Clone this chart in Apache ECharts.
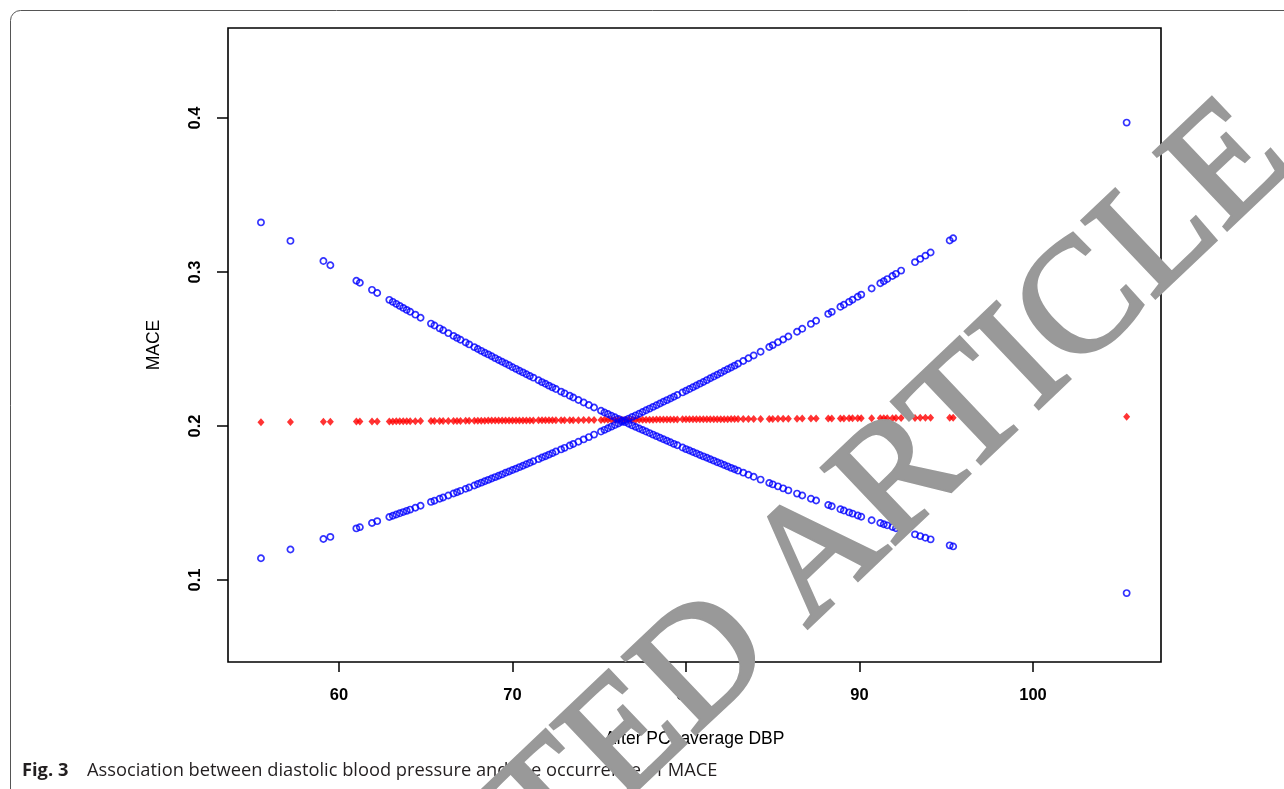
<!DOCTYPE html>
<html>
<head>
<meta charset="utf-8">
<script src="https://cdn.jsdelivr.net/npm/echarts@6/dist/echarts.min.js"></script>
<style>
  html, body { margin: 0; padding: 0; background: #fff; }
  #chart { width: 1284px; height: 789px; }
</style>
</head>
<body>
<div id="chart"></div>
<script>
// After-PCI average DBP values (x)
var dbp = [55.5, 57.2, 59.1, 59.5, 61.0, 61.2, 61.9, 62.2, 62.9, 63.1, 63.3, 63.5, 63.7, 63.9, 64.1, 64.4, 64.7, 65.3, 65.5, 65.8,
  66.0, 66.3, 66.6, 66.8, 67.0, 67.3, 67.5, 67.8, 68.0, 68.2, 68.4, 68.6, 68.8, 69.0, 69.2, 69.4, 69.6, 69.8, 70.0, 70.2,
  70.4, 70.6, 70.8, 71.0, 71.2, 71.5, 71.7, 71.9, 72.1, 72.3, 72.5, 72.8, 73.0, 73.3, 73.5, 73.8, 74.1, 74.4, 74.7, 75.1,
  75.3, 75.5, 75.7, 75.9, 76.1, 76.3, 76.5, 76.7, 76.9, 77.1, 77.3, 77.5, 77.7, 77.9, 78.1, 78.3, 78.5, 78.7, 78.9, 79.1,
  79.3, 79.5, 79.8, 80.0, 80.2, 80.4, 80.6, 80.8, 81.0, 81.2, 81.4, 81.6, 81.8, 82.0, 82.2, 82.4, 82.6, 82.8, 83.0, 83.3,
  83.6, 83.9, 84.3, 84.8, 85.0, 85.3, 85.6, 85.9, 86.4, 86.7, 87.2, 87.5, 88.2, 88.4, 88.9, 89.1, 89.4, 89.6, 89.9, 90.1,
  90.7, 91.2, 91.4, 91.6, 91.9, 92.1, 92.4, 93.2, 93.5, 93.8, 94.1, 95.2, 95.4, 105.4];

// Decreasing blue band (one confidence bound)
var boundDown = [.3322, .3202, .3071, .3044, .2943, .2930, .2884, .2864, .2819, .2806, .2793, .2780, .2767, .2754, .2742, .2723, .2703, .2665, .2653, .2634,
  .2622, .2603, .2585, .2572, .2560, .2542, .2530, .2512, .2500, .2488, .2476, .2465, .2453, .2441, .2429, .2417, .2406, .2394, .2382, .2371,
  .2359, .2348, .2336, .2325, .2314, .2297, .2285, .2274, .2262, .2251, .2240, .2223, .2212, .2196, .2185, .2169, .2153, .2136, .2120, .2099,
  .2088, .2078, .2067, .2057, .2046, .2036, .2025, .2015, .2004, .1994, .1984, .1974, .1964, .1954, .1944, .1934, .1924, .1914, .1904, .1894,
  .1884, .1875, .1860, .1850, .1841, .1831, .1822, .1812, .1803, .1794, .1784, .1775, .1765, .1756, .1747, .1738, .1728, .1719, .1710, .1697,
  .1683, .1670, .1652, .1630, .1621, .1608, .1595, .1582, .1561, .1549, .1528, .1516, .1487, .1479, .1459, .1451, .1439, .1431, .1419, .1411,
  .1388, .1370, .1362, .1355, .1344, .1336, .1325, .1296, .1285, .1274, .1264, .1225, .1218, .0915];

// Increasing blue band (other confidence bound)
var boundUp = [.1141, .1198, .1266, .1280, .1335, .1343, .1370, .1382, .1409, .1417, .1425, .1433, .1441, .1449, .1457, .1469, .1482, .1507, .1515, .1528,
  .1536, .1549, .1562, .1570, .1579, .1592, .1601, .1614, .1623, .1632, .1641, .1650, .1659, .1668, .1677, .1686, .1696, .1705, .1714, .1723,
  .1733, .1742, .1752, .1761, .1771, .1785, .1795, .1804, .1814, .1824, .1834, .1848, .1858, .1873, .1883, .1898, .1913, .1928, .1944, .1964,
  .1975, .1985, .1996, .2006, .2016, .2027, .2038, .2048, .2059, .2069, .2080, .2091, .2102, .2113, .2124, .2135, .2146, .2157, .2168, .2179,
  .2190, .2201, .2218, .2229, .2240, .2252, .2263, .2275, .2286, .2298, .2310, .2321, .2333, .2345, .2357, .2369, .2380, .2392, .2404, .2422,
  .2440, .2458, .2482, .2513, .2525, .2544, .2562, .2581, .2612, .2631, .2663, .2683, .2728, .2741, .2774, .2787, .2806, .2820, .2839, .2853,
  .2893, .2927, .2940, .2954, .2974, .2988, .3009, .3064, .3085, .3106, .3127, .3205, .3219, .3970];

// Estimated MACE probability (red)
var estimate = [.2025, .2026, .2028, .2028, .2029, .2029, .2030, .2030, .2030, .2030, .2031, .2031, .2031, .2031, .2031, .2031, .2032, .2032, .2032, .2032,
  .2033, .2033, .2033, .2033, .2033, .2034, .2034, .2034, .2034, .2034, .2034, .2035, .2035, .2035, .2035, .2035, .2035, .2035, .2036, .2036,
  .2036, .2036, .2036, .2036, .2036, .2037, .2037, .2037, .2037, .2037, .2037, .2038, .2038, .2038, .2038, .2038, .2039, .2039, .2039, .2039,
  .2040, .2040, .2040, .2040, .2040, .2040, .2040, .2040, .2041, .2041, .2041, .2041, .2041, .2041, .2041, .2042, .2042, .2042, .2042, .2042,
  .2042, .2042, .2043, .2043, .2043, .2043, .2043, .2043, .2043, .2044, .2044, .2044, .2044, .2044, .2044, .2044, .2045, .2045, .2045, .2045,
  .2045, .2046, .2046, .2046, .2046, .2047, .2047, .2047, .2047, .2048, .2048, .2048, .2049, .2049, .2049, .2049, .2050, .2050, .2050, .2050,
  .2050, .2051, .2051, .2051, .2051, .2052, .2052, .2052, .2053, .2053, .2053, .2054, .2054, .2060];

var xTicks = [60, 70, 80, 90, 100];
var yTicks = [0.1, 0.2, 0.3, 0.4];

function pairs(xs, ys) { return xs.map(function (x, i) { return [x, ys[i]]; }); }

var chart = echarts.init(document.getElementById('chart'), null, { renderer: 'canvas' });
var tickFont = { fontFamily: '"Liberation Sans", Arial, sans-serif', fontSize: 16.5, fontWeight: 'bold', color: '#000' };
var capFont = '"Open Sans", "Noto Sans", sans-serif';

chart.setOption({
  backgroundColor: '#ffffff',
  animation: false,
  grid: { left: 228, top: 28, right: 123, bottom: 127, show: true, borderColor: '#000', borderWidth: 1.6, backgroundColor: 'transparent' },
  xAxis: {
    type: 'value', min: 53.6, max: 107.38,
    name: 'After PCI average DBP', nameLocation: 'middle', nameGap: 68,
    nameTextStyle: { fontFamily: '"Liberation Sans", Arial, sans-serif', fontSize: 17.5, color: '#000' },
    axisLine: { show: false },
    axisTick: { show: true, inside: false, length: 10, customValues: xTicks, lineStyle: { color: '#000', width: 1.5 } },
    axisLabel: Object.assign({ customValues: xTicks, margin: 25 }, tickFont),
    splitLine: { show: false }
  },
  yAxis: {
    type: 'value', min: 0.04675, max: 0.45844,
    name: 'MACE', nameLocation: 'middle', nameGap: 65, nameRotate: 90,
    nameTextStyle: { fontFamily: '"Liberation Sans", Arial, sans-serif', fontSize: 17.5, color: '#000' },
    axisLine: { show: false },
    axisTick: { show: true, inside: false, length: 11, customValues: yTicks, lineStyle: { color: '#000', width: 1.5 } },
    axisLabel: Object.assign({ customValues: yTicks, margin: 24, rotate: 90, formatter: function (v) { return v.toFixed(1); } }, tickFont),
    splitLine: { show: false }
  },
  series: [
    { type: 'scatter', name: 'estimate', data: pairs(dbp, estimate), symbol: 'diamond', symbolSize: [7, 8],
      itemStyle: { color: '#FF0000' }, z: 2 },
    { type: 'scatter', name: 'bound1', data: pairs(dbp, boundDown), symbol: 'circle', symbolSize: 6.2,
      itemStyle: { color: 'rgba(0,0,0,0)', borderColor: '#0000FF', borderWidth: 1.7 }, z: 3 },
    { type: 'scatter', name: 'bound2', data: pairs(dbp, boundUp), symbol: 'circle', symbolSize: 6.2,
      itemStyle: { color: 'rgba(0,0,0,0)', borderColor: '#0000FF', borderWidth: 1.7 }, z: 3 }
  ],
  graphic: [
    { type: 'rect', z: 1, silent: true, shape: { x: 10.5, y: 10.5, width: 1300, height: 800, r: 10 },
      style: { fill: 'none', stroke: '#555', lineWidth: 1 } },
    { type: 'text', z: 100, silent: true, left: 22, top: 762,
      style: { text: 'Fig. 3', font: 'bold 18.3px ' + capFont, fill: '#231f20' } },
    { type: 'text', z: 100, silent: true, left: 87, top: 762,
      style: { text: 'Association between diastolic blood pressure and the occurrence of MACE', font: '18.3px ' + capFont, fill: '#231f20' } },
    { type: 'text', z: 200, silent: true, x: 661, y: 708, rotation: 43.5 * Math.PI / 180,
      style: { text: 'RETRACTED ARTICLE', font: '162px "Liberation Serif", "Times New Roman", serif', fill: '#999999',
        stroke: '#999999', lineWidth: 3.5, align: 'center', verticalAlign: 'middle' } }
  ]
});
</script>
</body>
</html>
